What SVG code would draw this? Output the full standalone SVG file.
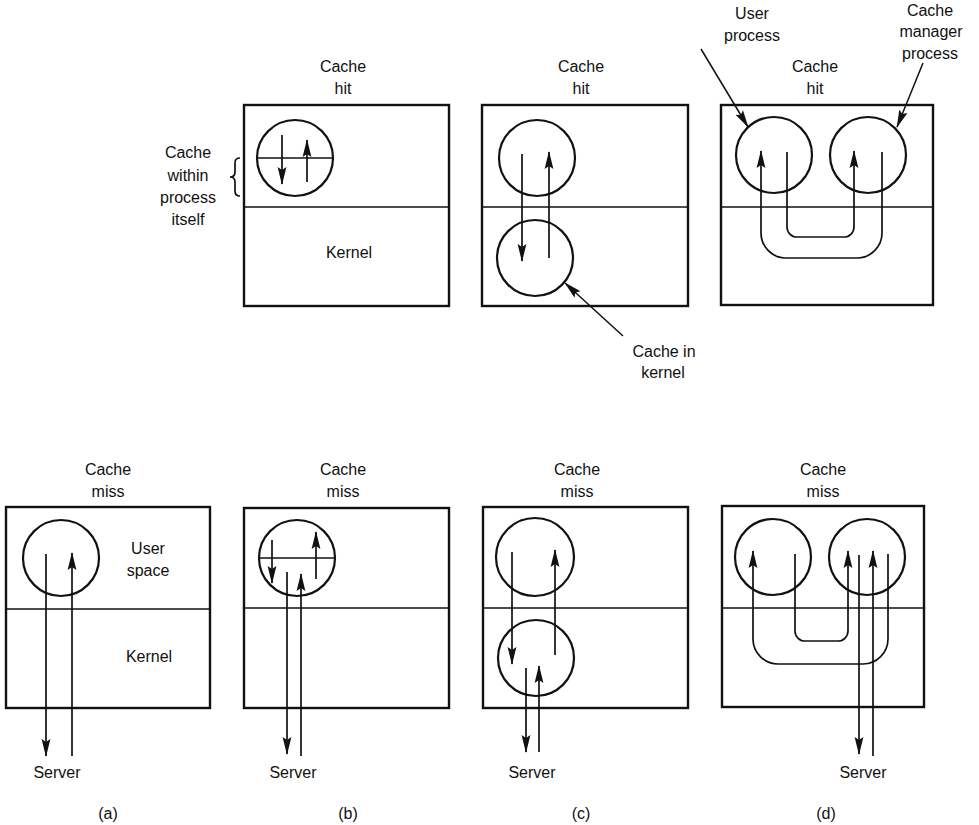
<svg xmlns="http://www.w3.org/2000/svg" width="979" height="825" viewBox="0 0 979 825">
<style>
  .box { fill: none; stroke: #111; stroke-width: 2.4; }
  .div { stroke: #111; stroke-width: 1.4; }
  .circ { fill: none; stroke: #111; stroke-width: 2.2; }
  .ln { fill: none; stroke: #111; stroke-width: 1.7; }
  .arr { fill: none; stroke: #111; stroke-width: 1.7; marker-end: url(#ah); }
  .ptr { fill: none; stroke: #111; stroke-width: 1.5; marker-end: url(#ah); }
  text { font-family: "Liberation Sans", Arial, sans-serif; font-size: 16px; fill: #111; text-anchor: middle; }
</style>
<defs>
  <marker id="ah" markerWidth="18" markerHeight="10" refX="17" refY="5" orient="auto" markerUnits="userSpaceOnUse">
    <path d="M0,0.6 L18,5 L0,9.4 L3,5 z" fill="#111"/>
  </marker>
</defs>
<rect width="979" height="825" fill="#fff"/>

<!-- Top row: cache hit -->
<g id="hit-a">
  <text x="343" y="72">Cache</text>
  <text x="343" y="94">hit</text>
  <rect class="box" x="244" y="105" width="205" height="201"/>
  <line class="div" x1="244" y1="207" x2="449" y2="207"/>
  <circle class="circ" cx="295" cy="158" r="38"/>
  <line class="ln" x1="257" y1="158" x2="333" y2="158"/>
  <text x="349" y="258">Kernel</text>
  <text x="188" y="158">Cache</text>
  <text x="188" y="181">within</text>
  <text x="188" y="203">process</text>
  <text x="188" y="225">itself</text>
  <path class="ln" d="M240,158 Q235,158 235,163 L235,172 Q235,177 230,177 Q235,177 235,182 L235,191 Q235,196 240,196" stroke-width="1.5"/>
</g>

<g id="hit-b">
  <text x="581" y="72">Cache</text>
  <text x="581" y="94">hit</text>
  <rect class="box" x="482" y="105" width="206" height="201"/>
  <line class="div" x1="482" y1="207" x2="688" y2="207"/>
  <circle class="circ" cx="537" cy="158" r="38"/>
  <circle class="circ" cx="535" cy="258" r="38"/>
  <text x="664" y="357">Cache in</text>
  <text x="663" y="378">kernel</text>
</g>

<g id="hit-d">
  <text x="815" y="72">Cache</text>
  <text x="815" y="94">hit</text>
  <text x="752" y="19">User</text>
  <text x="752" y="41">process</text>
  <text x="930" y="16">Cache</text>
  <text x="931" y="37">manager</text>
  <text x="930" y="59">process</text>
  <rect class="box" x="721" y="105" width="212" height="200"/>
  <line class="div" x1="721" y1="207" x2="933" y2="207"/>
  <circle class="circ" cx="774" cy="155" r="38"/>
  <circle class="circ" cx="868" cy="155" r="38"/>
</g>

<!-- Bottom row: cache miss -->
<g id="miss-a">
  <text x="108" y="475">Cache</text>
  <text x="108" y="497">miss</text>
  <rect class="box" x="6" y="507" width="204" height="201"/>
  <line class="div" x1="6" y1="609" x2="210" y2="609"/>
  <circle class="circ" cx="61" cy="558" r="38"/>
  <text x="148" y="554">User</text>
  <text x="148" y="576">space</text>
  <text x="149" y="662">Kernel</text>
  <text x="57" y="778">Server</text>
  <text x="108" y="819">(a)</text>
</g>

<g id="miss-b">
  <text x="343" y="475">Cache</text>
  <text x="343" y="497">miss</text>
  <rect class="box" x="244" y="508" width="205" height="200"/>
  <line class="div" x1="244" y1="608" x2="449" y2="608"/>
  <circle class="circ" cx="297" cy="558" r="38"/>
  <line class="ln" x1="259" y1="558" x2="335" y2="558"/>
  <text x="293" y="778">Server</text>
  <text x="348" y="819">(b)</text>
</g>

<g id="miss-c">
  <text x="577" y="475">Cache</text>
  <text x="577" y="497">miss</text>
  <rect class="box" x="483" y="507" width="205" height="201"/>
  <line class="div" x1="483" y1="608" x2="688" y2="608"/>
  <circle class="circ" cx="535" cy="557" r="39"/>
  <circle class="circ" cx="536" cy="658" r="38"/>
  <text x="532" y="778">Server</text>
  <text x="581" y="819">(c)</text>
</g>

<g id="miss-d">
  <text x="823" y="475">Cache</text>
  <text x="823" y="497">miss</text>
  <rect class="box" x="722" y="506" width="202" height="201"/>
  <line class="div" x1="722" y1="608" x2="924" y2="608"/>
  <circle class="circ" cx="773" cy="557" r="38"/>
  <circle class="circ" cx="867" cy="557" r="38"/>
  <text x="863" y="778">Server</text>
  <text x="826" y="819">(d)</text>
</g>

<g id="connectors">
  <!-- hit a -->
  <line class="arr" x1="282" y1="135" x2="282" y2="184"/>
  <line class="arr" x1="307" y1="182" x2="307" y2="140"/>
  <!-- hit b -->
  <line class="arr" x1="522" y1="154" x2="522" y2="261"/>
  <line class="arr" x1="549" y1="258" x2="549" y2="152"/>
  <line class="ptr" x1="623" y1="336" x2="565" y2="283"/>
  <!-- hit d -->
  <path class="arr" d="M882,152 V233 A25,25 0 0 1 857,258 H786 A25,25 0 0 1 761,233 V151"/>
  <path class="arr" d="M787,152 V227 A10,10 0 0 0 797,237 H844 A10,10 0 0 0 854,227 V151"/>
  <line class="ptr" x1="701" y1="49" x2="748" y2="127"/>
  <line class="ptr" x1="923" y1="63" x2="897" y2="127"/>
  <!-- miss a -->
  <line class="arr" x1="46" y1="554" x2="46" y2="756"/>
  <line class="arr" x1="72" y1="756" x2="72" y2="553"/>
  <!-- miss b -->
  <line class="arr" x1="272" y1="540" x2="272" y2="583"/>
  <line class="arr" x1="316" y1="579" x2="316" y2="532"/>
  <line class="arr" x1="287" y1="572" x2="287" y2="754"/>
  <line class="arr" x1="301" y1="756" x2="301" y2="574"/>
  <!-- miss c -->
  <line class="arr" x1="512" y1="552" x2="512" y2="664"/>
  <line class="arr" x1="555" y1="655" x2="555" y2="550"/>
  <line class="arr" x1="526" y1="668" x2="526" y2="752"/>
  <line class="arr" x1="539" y1="752" x2="539" y2="666"/>
  <!-- miss d -->
  <path class="arr" d="M888,554 V639 A25,25 0 0 1 863,664 H778 A25,25 0 0 1 753,639 V551"/>
  <path class="arr" d="M795,554 V631 A10,10 0 0 0 805,641 H838 A10,10 0 0 0 848,631 V551"/>
  <line class="arr" x1="859" y1="555" x2="859" y2="754"/>
  <line class="arr" x1="873" y1="756" x2="873" y2="551"/>
</g>
</svg>
